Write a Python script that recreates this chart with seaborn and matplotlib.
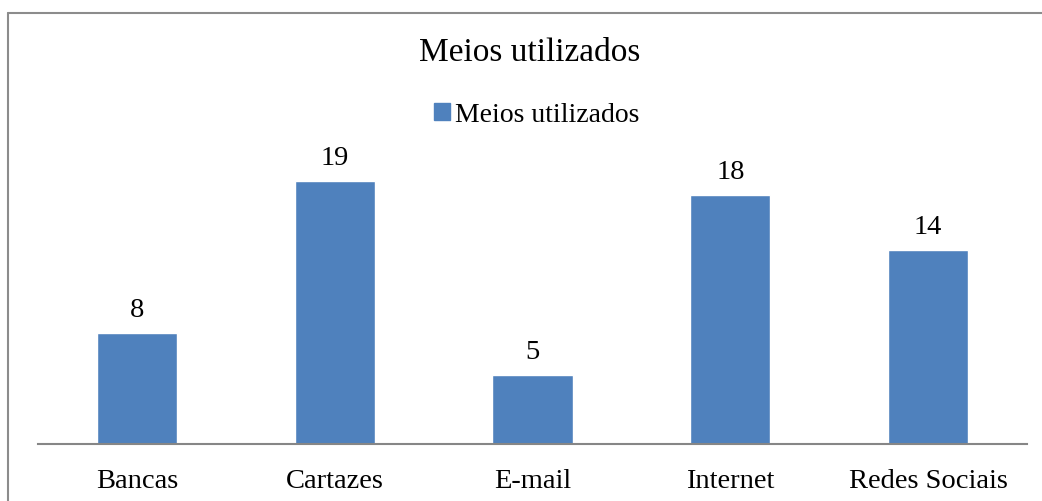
import matplotlib
matplotlib.use('Agg')
import matplotlib.pyplot as plt
from matplotlib.lines import Line2D
import pandas as pd
import seaborn as sns

# dados do gráfico
categorias = ['Bancas', 'Cartazes', 'E-mail', 'Internet', 'Redes Sociais']
valores = [8, 19, 5, 18, 14]
serie = 'Meios utilizados'

df = pd.DataFrame({'Meio': categorias, 'Total': valores, 'Serie': serie})

sns.set_style('white')
plt.rcParams['font.family'] = ['Liberation Serif', 'DejaVu Serif']
plt.rcParams['text.color'] = 'black'

W, H = 1042, 501
fig = plt.figure(figsize=(W / 100, H / 100), dpi=100)
ax = fig.add_axes([38 / W, (H - 444) / H, (1027 - 38) / W, (444 - 167) / H])

sns.barplot(data=df, x='Meio', y='Total', hue='Serie', palette=['#4F81BD'],
            width=0.405, saturation=1, ax=ax, legend=False)

ax.set_ylim(0, 20)
ax.set_xlim(-0.5, len(categorias) - 0.5)
ax.set_yticks([])
ax.set_xlabel('')
ax.set_ylabel('')
for s in ['top', 'right', 'left']:
    ax.spines[s].set_visible(False)
ax.spines['bottom'].set_color('#868686')
ax.spines['bottom'].set_linewidth(1.5)
ax.tick_params(axis='x', length=0, labelsize=20.5, pad=18, colors='black')

for cont in ax.containers:
    ax.bar_label(cont, fontsize=20.5, padding=7, color='black')

# título e legenda
fig.text(530 / W, 1 - 53 / H, 'Meios utilizados', ha='center', va='center',
         fontsize=24, color='black')
handle = plt.Rectangle((0, 0), 1, 1, color='#4F81BD')
fig.legend([handle], [serie], loc='center', bbox_to_anchor=(537 / W, 1 - 115 / H),
           frameon=False, fontsize=20, handlelength=0.55, handleheight=0.55,
           handletextpad=0.2, borderpad=0)

# borda do gráfico
fig.add_artist(Line2D([8 / W, 1], [1 - 13 / H, 1 - 13 / H], color='#8c8c8c', lw=1.5))
fig.add_artist(Line2D([8 / W, 8 / W], [0, 1 - 13 / H], color='#8c8c8c', lw=1.5))

fig.savefig('out.png', dpi=100)
plt.close(fig)
